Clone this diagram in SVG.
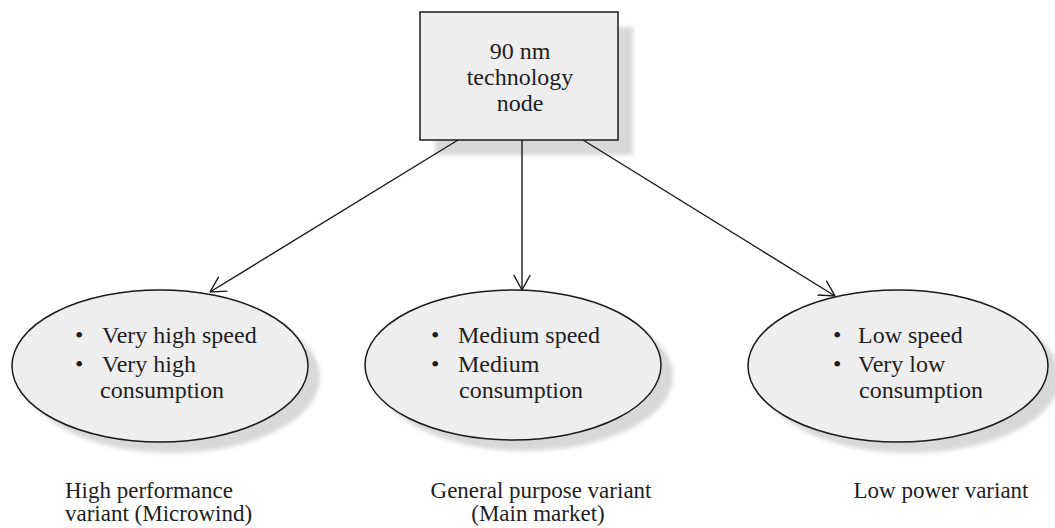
<svg xmlns="http://www.w3.org/2000/svg" width="1055" height="528" viewBox="0 0 1055 528">
<defs>
<style>
.t{font-family:"Liberation Serif","Times New Roman",serif;font-size:24px;fill:#1e1e1e}
.lbl{font-family:"Liberation Serif","Times New Roman",serif;font-size:23px;fill:#1e1e1e}
.shadow{fill:#d8d8d8;stroke:none}
.shape{fill:#eeeeee;stroke:#1a1a1a;stroke-width:1.5}
.conn{stroke:#1a1a1a;stroke-width:1.4;fill:none}
</style>
<filter id="soft" x="-10%" y="-10%" width="120%" height="120%">
<feGaussianBlur stdDeviation="2"/>
</filter>
<marker id="arr" viewBox="0 0 16 18" refX="15.5" refY="9" markerWidth="16" markerHeight="18" markerUnits="userSpaceOnUse" orient="auto">
<path d="M0,0.5 L15.5,9 L0,17.5" fill="none" stroke="#1a1a1a" stroke-width="1.4"/>
</marker>
</defs>
<rect width="1055" height="528" fill="#ffffff"/>
<g id="node-root">
<rect class="shadow" x="435" y="27" width="198" height="128" filter="url(#soft)"/>
<rect class="shape" x="420" y="12" width="198" height="128"/>
<text class="t" x="520" y="59" text-anchor="middle">90 nm</text>
<text class="t" x="520" y="85" text-anchor="middle">technology</text>
<text class="t" x="520" y="111" text-anchor="middle">node</text>
</g>
<g id="connectors">
<line class="conn" x1="458" y1="140" x2="210" y2="292" marker-end="url(#arr)"/>
<line class="conn" x1="522" y1="140" x2="522" y2="290" marker-end="url(#arr)"/>
<line class="conn" x1="583" y1="140" x2="835" y2="296" marker-end="url(#arr)"/>
</g>
<g id="node-high">
<ellipse class="shadow" cx="172" cy="377" rx="148" ry="76" filter="url(#soft)"/>
<ellipse class="shape" cx="160" cy="366" rx="148" ry="76"/>
<text class="t" x="75" y="343">•</text>
<text class="t" x="102" y="343">Very high speed</text>
<text class="t" x="75" y="372">•</text>
<text class="t" x="102" y="372">Very high</text>
<text class="t" x="100" y="398">consumption</text>
</g>
<g id="node-general">
<ellipse class="shadow" cx="525" cy="376" rx="148" ry="75" filter="url(#soft)"/>
<ellipse class="shape" cx="513" cy="365" rx="148" ry="75"/>
<text class="t" x="431" y="343">•</text>
<text class="t" x="458" y="343">Medium speed</text>
<text class="t" x="431" y="372">•</text>
<text class="t" x="458" y="372">Medium</text>
<text class="t" x="459" y="398">consumption</text>
</g>
<g id="node-low">
<ellipse class="shadow" cx="910" cy="377" rx="150" ry="76" filter="url(#soft)"/>
<ellipse class="shape" cx="898" cy="366" rx="150" ry="76"/>
<text class="t" x="833" y="343">•</text>
<text class="t" x="858" y="343">Low speed</text>
<text class="t" x="833" y="372">•</text>
<text class="t" x="858" y="372">Very low</text>
<text class="t" x="859" y="398">consumption</text>
</g>
<g id="labels">
<text class="lbl" x="65" y="498">High performance</text>
<text class="lbl" x="65" y="521">variant (Microwind)</text>
<text class="lbl" x="541" y="498" text-anchor="middle">General purpose variant</text>
<text class="lbl" x="538" y="521" text-anchor="middle">(Main market)</text>
<text class="lbl" x="941" y="498" text-anchor="middle">Low power variant</text>
</g>
</svg>
